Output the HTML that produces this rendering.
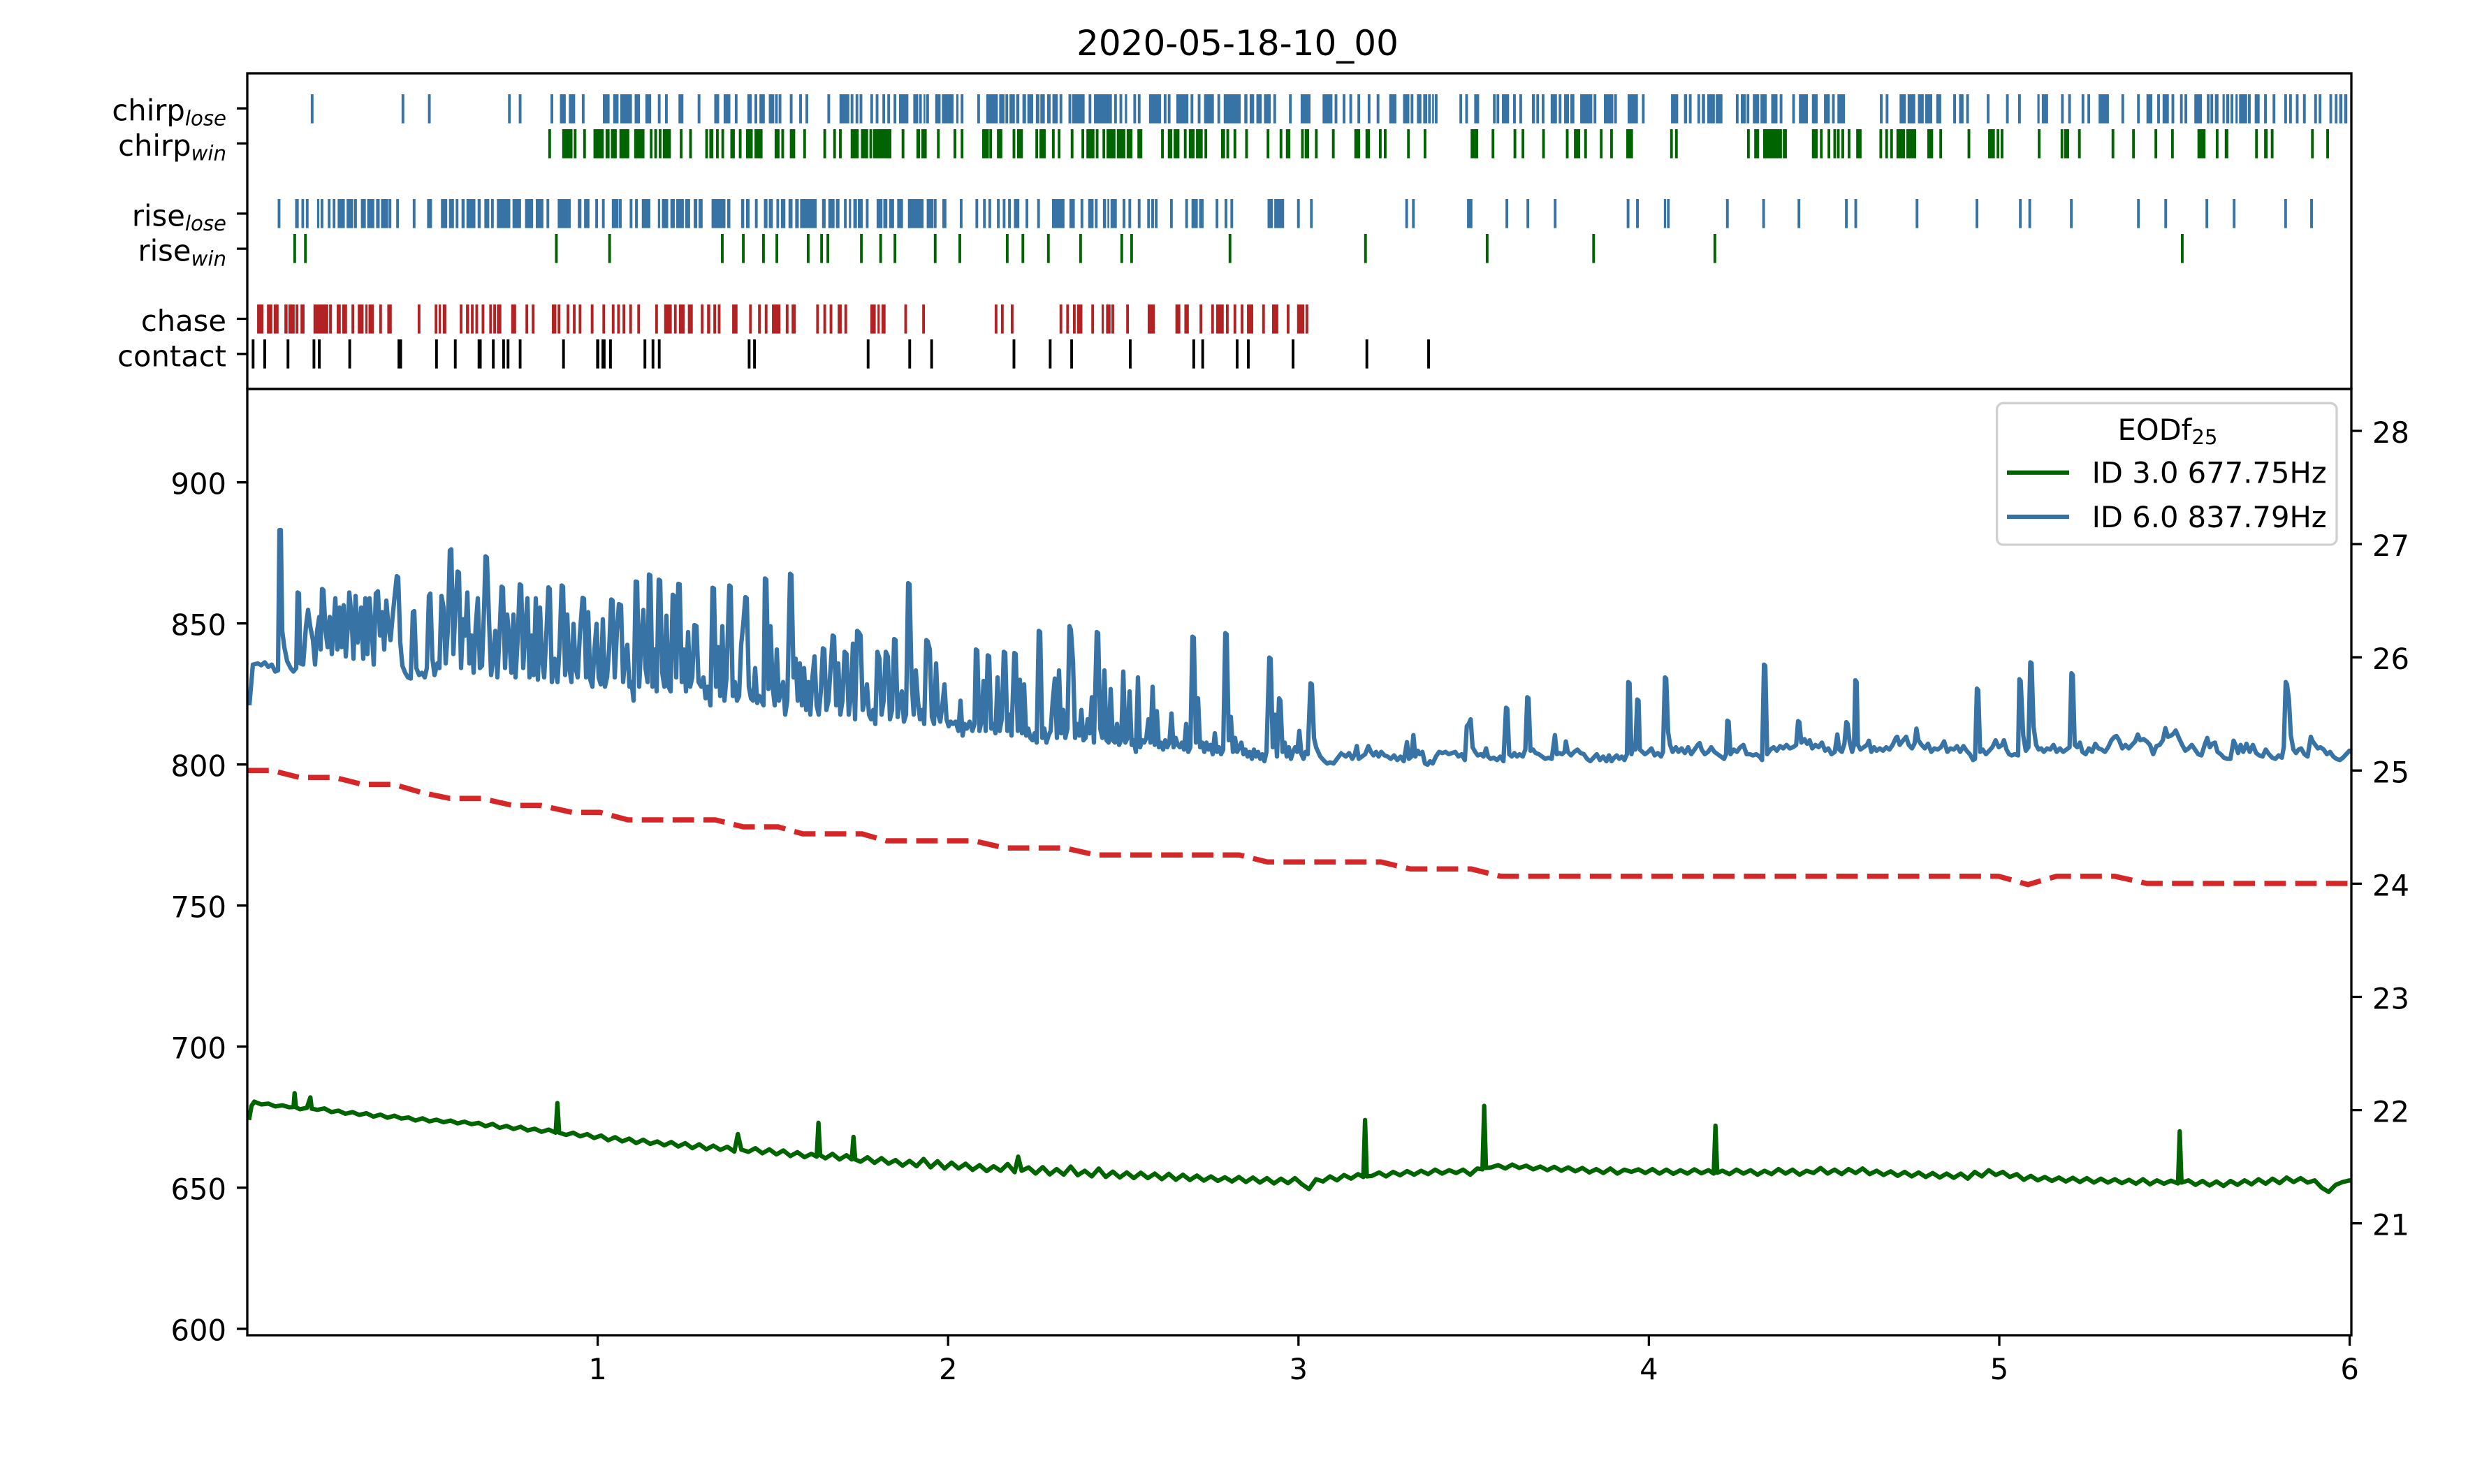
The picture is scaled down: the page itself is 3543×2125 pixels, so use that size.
<!DOCTYPE html>
<html><head><meta charset="utf-8"><style>html,body{margin:0;padding:0;background:#fff}svg{display:block}</style></head>
<body>
<svg xmlns="http://www.w3.org/2000/svg" width="3543" height="2125" viewBox="0 0 3543 2125" font-family="'DejaVu Sans','Liberation Sans',sans-serif">
<rect width="3543" height="2125" fill="#fff"/>
<defs><clipPath id="cb"><rect x="354" y="557" width="3012" height="1355"/></clipPath></defs>
<text x="1771.5" y="79" font-size="50" text-anchor="middle">2020-05-18-10_00</text>

<!-- ===== TOP EVENT PANEL ===== -->
<g fill-rule="nonzero">
<!-- segment 1 -->
<g transform="matrix(0.64029,0,0,0.33333,354,105)">
 <g transform="translate(0,90)" stroke="#3773a5" fill="#3773a5">
  <path vector-effect="non-scaling-stroke" stroke-width="3.9" fill="none" d="M145 0v125M348 0v125M407 0v125M586 0v125M610 0v125M681 0v125M751 0v125M921 0v125M937 0v125M1010 0v125M1093 0v125M1137 0v125M1183 0v125M1191 0v125M1216 0v125M1237 0v125M1251 0v125M1300 0v125M1352 0v125M1372 0v125M1396 0v125M1408 0v125M1423 0v125M1434 0v125M1448 0v125M1505 0v125M1521 0v125"/>
  <path stroke="none" d="M699 0h13v125h-13zM719 0h14v125h-14zM795 0h15v125h-15zM818 0h12v125h-12zM834 0h26v125h-26zM866 0h12v125h-12zM890 0h13v125h-13zM964 0h11v125h-11zM1044 0h11v125h-11zM1065 0h15v125h-15zM1118 0h10v125h-10zM1145 0h12v125h-12zM1166 0h12v125h-12zM1324 0h22v125h-22zM1360 0h6v125h-6zM1457 0h21v125h-21zM1489 0h11v125h-11zM1512 0h4v125h-4zM1538 0h12v125h-12zM1553 0h15v125h-15z"/>
 </g>
 <g transform="translate(0,240)" stroke="#006400" fill="#006400">
  <path vector-effect="non-scaling-stroke" stroke-width="3.9" fill="none" d="M676 0v125M733 0v125M754 0v125M903 0v125M913 0v125M970 0v125M991 0v125M1027 0v125M1051 0v125M1102 0v125M1197 0v125M1246 0v125M1291 0v125M1313 0v125M1326 0v125M1394 0v125M1466 0v125M1545 0v125"/>
  <path stroke="none" d="M704 0h23v125h-23zM774 0h23v125h-23zM801 0h9v125h-9zM813 0h13v125h-13zM832 0h22v125h-22zM865 0h23v125h-23zM920 0h6v125h-6zM929 0h18v125h-18zM1033 0h9v125h-9zM1060 0h6v125h-6zM1080 0h10v125h-10zM1115 0h15v125h-15zM1134 0h18v125h-18zM1179 0h11v125h-11zM1213 0h12v125h-12zM1349 0h18v125h-18zM1372 0h16v125h-16zM1399 0h41v125h-41zM1496 0h8v125h-8zM1507 0h12v125h-12z"/>
 </g>
 <g transform="translate(0,540)" stroke="#3773a5" fill="#3773a5">
  <path vector-effect="non-scaling-stroke" stroke-width="3.9" fill="none" d="M71 0v125M134 0v125M167 0v125M183 0v125M242 0v125M319 0v125M336 0v125M373 0v125M469 0v125M548 0v125M672 0v125M720 0v125M781 0v125M796 0v125M834 0v125M858 0v125M870 0v125M1138 0v125M1186 0v125M1386 0v125M1538 0v125"/>
  <path stroke="none" d="M107 0h8v125h-8zM121 0h6v125h-6zM156 0h5v125h-5zM191 0h6v125h-6zM202 0h16v125h-16zM222 0h15v125h-15zM254 0h11v125h-11zM268 0h16v125h-16zM288 0h8v125h-8zM299 0h16v125h-16zM402 0h11v125h-11zM433 0h14v125h-14zM451 0h11v125h-11zM479 0h7v125h-7zM490 0h20v125h-20zM515 0h7v125h-7zM530 0h11v125h-11zM558 0h30v125h-30zM593 0h19v125h-19zM621 0h18v125h-18zM645 0h17v125h-17zM694 0h23v125h-23zM739 0h8v125h-8zM753 0h12v125h-12zM815 0h15v125h-15zM882 0h19v125h-19zM918 0h5v125h-5zM927 0h14v125h-14zM946 0h10v125h-10zM959 0h17v125h-17zM979 0h11v125h-11zM998 0h8v125h-8zM1009 0h9v125h-9zM1038 0h31v125h-31zM1073 0h7v125h-7zM1104 0h7v125h-7zM1115 0h8v125h-8zM1155 0h8v125h-8zM1166 0h9v125h-9zM1193 0h10v125h-10zM1210 0h9v125h-9zM1225 0h8v125h-8zM1236 0h37v125h-37zM1285 0h8v125h-8zM1299 0h14v125h-14zM1316 0h8v125h-8zM1334 0h6v125h-6zM1345 0h5v125h-5zM1355 0h8v125h-8zM1365 0h11v125h-11zM1407 0h13v125h-13zM1422 0h9v125h-9zM1435 0h11v125h-11zM1453 0h13v125h-13zM1477 0h35v125h-35zM1519 0h15v125h-15zM1554 0h9v125h-9z"/>
 </g>
 <g transform="translate(0,690)">
  <path vector-effect="non-scaling-stroke" stroke="#006400" stroke-width="3.9" fill="none" d="M106 0v125M130 0v125M691 0v125M810 0v125M1062 0v125M1109 0v125M1154 0v125M1184 0v125M1254 0v125M1284 0v125M1298 0v125M1373 0v125M1416 0v125M1448 0v125M1538 0v125"/>
 </g>
 <g transform="translate(0,993)" stroke="#b22222" fill="#b22222">
  <path vector-effect="non-scaling-stroke" stroke-width="3.9" fill="none" d="M111 0v125M186 0v125M236 0v125M298 0v125M384 0v125M422 0v125M478 0v125M513 0v125M527 0v125M544 0v125M625 0v125M639 0v125M697 0v125M717 0v125M731 0v125M744 0v125M771 0v125M797 0v125M818 0v125M830 0v125M842 0v125M857 0v125M875 0v125M915 0v125M1017 0v125M1045 0v125M1055 0v125M1125 0v125M1145 0v125M1160 0v125M1207 0v125M1275 0v125M1291 0v125M1305 0v125M1338 0v125M1472 0v125M1512 0v125"/>
  <path stroke="none" d="M22 0h14v125h-14zM44 0h12v125h-12zM59 0h11v125h-11zM83 0h7v125h-7zM92 0h14v125h-14zM119 0h9v125h-9zM148 0h33v125h-33zM200 0h9v125h-9zM212 0h11v125h-11zM247 0h13v125h-13zM264 0h5v125h-5zM271 0h12v125h-12zM313 0h10v125h-10zM428 0h5v125h-5zM437 0h8v125h-8zM489 0h7v125h-7zM500 0h6v125h-6zM550 0h6v125h-6zM558 0h10v125h-10zM590 0h11v125h-11zM681 0h10v125h-10zM932 0h17v125h-17zM954 0h6v125h-6zM965 0h13v125h-13zM985 0h11v125h-11zM1028 0h7v125h-7zM1084 0h12v125h-12zM1173 0h19v125h-19zM1217 0h9v125h-9zM1320 0h9v125h-9zM1393 0h12v125h-12zM1409 0h5v125h-5zM1418 0h9v125h-9z"/>
 </g>
 <g transform="translate(0,1143)" stroke="#000" fill="#000">
  <path vector-effect="non-scaling-stroke" stroke-width="3.9" fill="none" d="M13 0v125M39 0v125M91 0v125M149 0v125M161 0v125M229 0v125M423 0v125M465 0v125M550 0v125M573 0v125M583 0v125M610 0v125M707 0v125M812 0v125M889 0v125M907 0v125M921 0v125M1122 0v125M1134 0v125M1388 0v125M1481 0v125M1530 0v125"/>
  <path stroke="none" d="M336 0h10v125h-10zM515 0h9v125h-9zM780 0h7v125h-7zM792 0h9v125h-9z"/>
 </g>
</g>
<!-- segment 2 -->
<g transform="matrix(0.64029,0,0,0.33333,1358,105)">
 <g transform="translate(0,90)" stroke="#3773a5" fill="#3773a5">
  <path vector-effect="non-scaling-stroke" stroke-width="3.9" fill="none" d="M30 0v125M67 0v125M130 0v125M251 0v125M271 0v125M316 0v125M373 0v125M385 0v125M416 0v125M426 0v125M484 0v125M493 0v125M544 0v125M560 0v125M604 0v125M729 0v125M764 0v125M866 0v125M884 0v125M899 0v125M917 0v125M940 0v125M960 0v125M1036 0v125M1075 0v125M1090 0v125M1145 0v125M1158 0v125M1220 0v125M1228 0v125M1265 0v125M1279 0v125M1317 0v125M1329 0v125M1367 0v125M1445 0v125M1491 0v125M1553 0v125"/>
  <path stroke="none" d="M0 0h11v125h-11zM17 0h5v125h-5zM84 0h26v125h-26zM113 0h12v125h-12zM136 0h12v125h-12zM151 0h7v125h-7zM165 0h8v125h-8zM176 0h13v125h-13zM195 0h8v125h-8zM205 0h10v125h-10zM220 0h8v125h-8zM232 0h12v125h-12zM276 0h28v125h-28zM325 0h40v125h-40zM394 0h5v125h-5zM448 0h27v125h-27zM509 0h27v125h-27zM571 0h22v125h-22zM615 0h38v125h-38zM661 0h7v125h-7zM673 0h10v125h-10zM688 0h12v125h-12zM705 0h15v125h-15zM787 0h22v125h-22zM836 0h22v125h-22zM985 0h16v125h-16zM1016 0h14v125h-14zM1047 0h10v125h-10zM1061 0h9v125h-9zM1081 0h4v125h-4zM1175 0h11v125h-11zM1237 0h16v125h-16zM1304 0h7v125h-7zM1346 0h14v125h-14zM1376 0h11v125h-11zM1390 0h9v125h-9zM1412 0h27v125h-27zM1465 0h21v125h-21zM1518 0h23v125h-23z"/>
 </g>
 <g transform="translate(0,240)" stroke="#006400" fill="#006400">
  <path vector-effect="non-scaling-stroke" stroke-width="3.9" fill="none" d="M14 0v125M30 0v125M94 0v125M146 0v125M197 0v125M234 0v125M247 0v125M276 0v125M300 0v125M332 0v125M478 0v125M529 0v125M575 0v125M624 0v125M640 0v125M666 0v125M714 0v125M743 0v125M791 0v125M822 0v125M860 0v125M965 0v125M976 0v125M1028 0v125M1065 0v125M1217 0v125M1266 0v125M1284 0v125M1330 0v125M1383 0v125M1424 0v125M1459 0v125M1482 0v125"/>
  <path stroke="none" d="M75 0h15v125h-15zM108 0h12v125h-12zM153 0h13v125h-13zM203 0h14v125h-14zM308 0h18v125h-18zM344 0h6v125h-6zM353 0h20v125h-20zM376 0h19v125h-19zM398 0h13v125h-13zM422 0h11v125h-11zM490 0h10v125h-10zM503 0h13v125h-13zM537 0h13v125h-13zM553 0h15v125h-15zM609 0h9v125h-9zM754 0h10v125h-10zM796 0h10v125h-10zM907 0h13v125h-13zM932 0h10v125h-10zM1167 0h17v125h-17zM1398 0h14v125h-14zM1515 0h15v125h-15z"/>
 </g>
 <g transform="translate(0,540)" stroke="#3773a5" fill="#3773a5">
  <path vector-effect="non-scaling-stroke" stroke-width="3.9" fill="none" d="M28 0v125M63 0v125M80 0v125M92 0v125M111 0v125M124 0v125M136 0v125M175 0v125M201 0v125M298 0v125M330 0v125M392 0v125M405 0v125M426 0v125M456 0v125M464 0v125M498 0v125M532 0v125M600 0v125M620 0v125M633 0v125M782 0v125M811 0v125M1024 0v125M1039 0v125M1248 0v125M1295 0v125M1356 0v125M1519 0v125M1540 0v125"/>
  <path stroke="none" d="M146 0h12v125h-12zM231 0h28v125h-28zM270 0h12v125h-12zM312 0h12v125h-12zM345 0h7v125h-7zM355 0h4v125h-4zM362 0h14v125h-14zM444 0h6v125h-6zM543 0h14v125h-14zM560 0h10v125h-10zM713 0h12v125h-12zM728 0h22v125h-22zM1159 0h12v125h-12z"/>
 </g>
 <g transform="translate(0,690)">
  <path vector-effect="non-scaling-stroke" stroke="#006400" stroke-width="3.9" fill="none" d="M25 0v125M131 0v125M166 0v125M223 0v125M295 0v125M387 0v125M409 0v125M629 0v125M932 0v125M1204 0v125M1442 0v125"/>
 </g>
 <g transform="translate(0,993)" stroke="#b22222" fill="#b22222">
  <path vector-effect="non-scaling-stroke" stroke-width="3.9" fill="none" d="M106 0v125M120 0v125M142 0v125M251 0v125M266 0v125M281 0v125M290 0v125M296 0v125M322 0v125M367 0v125M400 0v125M564 0v125M590 0v125M623 0v125M640 0v125M656 0v125M704 0v125M759 0v125M801 0v125"/>
  <path stroke="none" d="M342 0h5v125h-5zM352 0h10v125h-10zM445 0h16v125h-16zM507 0h11v125h-11zM527 0h10v125h-10zM598 0h17v125h-17zM667 0h14v125h-14zM723 0h14v125h-14zM779 0h16v125h-16z"/>
 </g>
 <g transform="translate(0,1143)">
  <path vector-effect="non-scaling-stroke" stroke="#000" stroke-width="3.9" fill="none" d="M146 0v125M227 0v125M275 0v125M406 0v125M548 0v125M568 0v125M645 0v125M670 0v125M770 0v125M935 0v125M1073 0v125"/>
 </g>
</g>
<!-- segment 3 -->
<g transform="matrix(0.64029,0,0,0.33333,2362,105)">
 <g transform="translate(0,90)" stroke="#3773a5" fill="#3773a5">
  <path vector-effect="non-scaling-stroke" stroke-width="3.9" fill="none" d="M90 0v125M195 0v125M219 0v125M293 0v125M321 0v125M410 0v125M517 0v125M530 0v125M681 0v125M710 0v125M756 0v125M799 0v125M826 0v125M938 0v125M968 0v125M981 0v125M1057 0v125M1092 0v125M1137 0v125M1169 0v125M1198 0v125M1248 0v125M1256 0v125M1301 0v125M1340 0v125M1376 0v125M1395 0v125M1421 0v125M1432 0v125M1447 0v125M1463 0v125M1488 0v125M1498 0v125"/>
  <path stroke="none" d="M47 0h16v125h-16zM76 0h7v125h-7zM106 0h6v125h-6zM116 0h7v125h-7zM128 0h17v125h-17zM147 0h15v125h-15zM203 0h11v125h-11zM230 0h14v125h-14zM247 0h14v125h-14zM271 0h14v125h-14zM333 0h20v125h-20zM362 0h13v125h-13zM389 0h13v125h-13zM419 0h17v125h-17zM558 0h14v125h-14zM576 0h17v125h-17zM599 0h13v125h-13zM615 0h16v125h-16zM640 0h11v125h-11zM691 0h10v125h-10zM866 0h5v125h-5zM876 0h14v125h-14zM919 0h6v125h-6zM1003 0h23v125h-23zM1110 0h13v125h-13zM1146 0h14v125h-14zM1185 0h6v125h-6zM1217 0h17v125h-17zM1263 0h8v125h-8zM1280 0h5v125h-5zM1288 0h7v125h-7zM1309 0h5v125h-5zM1317 0h18v125h-18zM1352 0h11v125h-11zM1519 0h6v125h-6zM1531 0h6v125h-6zM1541 0h7v125h-7zM1552 0h7v125h-7z"/>
 </g>
 <g transform="translate(0,240)" stroke="#006400" fill="#006400">
  <path vector-effect="non-scaling-stroke" stroke-width="3.9" fill="none" d="M59 0v125M220 0v125M383 0v125M400 0v125M421 0v125M431 0v125M445 0v125M516 0v125M529 0v125M540 0v125M650 0v125M713 0v125M778 0v125M787 0v125M870 0v125M960 0v125M1035 0v125M1081 0v125M1131 0v125M1168 0v125M1268 0v125M1356 0v125M1391 0v125M1481 0v125M1515 0v125"/>
  <path stroke="none" d="M45 0h6v125h-6zM233 0h11v125h-11zM253 0h42v125h-42zM297 0h9v125h-9zM362 0h13v125h-13zM410 0h6v125h-6zM461 0h12v125h-12zM551 0h19v125h-19zM573 0h22v125h-22zM620 0h13v125h-13zM756 0h15v125h-15zM918 0h6v125h-6zM926 0h11v125h-11zM1224 0h18v125h-18zM1285 0h8v125h-8zM1373 0h8v125h-8z"/>
 </g>
 <g transform="translate(0,540)" stroke="#3773a5" fill="#3773a5">
  <path vector-effect="non-scaling-stroke" stroke-width="3.9" fill="none" d="M173 0v125M254 0v125M333 0v125M439 0v125M460 0v125M597 0v125M731 0v125M828 0v125M849 0v125M942 0v125M1092 0v125M1153 0v125M1245 0v125M1306 0v125M1421 0v125M1479 0v125"/>
  <path stroke="none" d="M31 0h5v125h-5zM38 0h6v125h-6z"/>
 </g>
 <g transform="translate(0,690)">
  <path vector-effect="non-scaling-stroke" stroke="#006400" stroke-width="3.9" fill="none" d="M145 0v125M1190 0v125"/>
 </g>
</g>
</g>

<!-- top panel ticks & labels -->
<path d="M339 155.2H354M339 205.4H354M339 305.9H354M339 356.1H354M339 456.5H354M339 506.8H354" stroke="#000" stroke-width="3.3"/>
<g font-size="41.67" text-anchor="end">
<text x="324" y="172.7">chirp<tspan font-style="italic" font-size="29.2" dy="6.7">lose</tspan></text>
<text x="324" y="222.9">chirp<tspan font-style="italic" font-size="29.2" dy="6.7">win</tspan></text>
<text x="324" y="323.4">rise<tspan font-style="italic" font-size="29.2" dy="6.7">lose</tspan></text>
<text x="324" y="373.6">rise<tspan font-style="italic" font-size="29.2" dy="6.7">win</tspan></text>
<text x="324" y="474">chase</text>
<text x="324" y="524.3">contact</text>
</g>

<!-- ===== BOTTOM PANEL ===== -->
<g clip-path="url(#cb)">
<path d="M354 1103.3L389 1103.3L429 1113.3L479 1113.3L519 1123.3L564 1123.3L604 1135L644 1143.3L689 1143.3L734 1153.3L774 1153.3L819 1163.3L859 1163.3L899 1174L1024 1174L1064 1184L1114 1184L1149 1194L1234 1194L1269 1204L1394 1204L1439 1214.3L1524 1214.3L1569 1224.3L1774 1224.3L1814 1234.3L1977 1234.3L2019 1244.3L2106 1244.3L2148 1254.7L2861 1254.7L2903 1266.7L2944 1254.7L3027 1254.7L3073 1265L3366 1265" fill="none" stroke="#d62728" stroke-width="7.5" stroke-dasharray="30.8 13.3"/>

<path transform="matrix(1,0,0,0.33333,354,770)" vector-effect="non-scaling-stroke" fill="none" stroke="#3773a5" stroke-width="6.25" stroke-linejoin="round" d="M3,720 L8,545 L15,540 L20,548 L25,535 L30,555 L35,545 L40,575 L44,570 L46,-33 L48,-33 L50,400 L53,470 L57,530 L62,560 L66,575 L70,560 L72,235 L74,240 L76,540 L80,545 L84,380 L87,310 L90,380 L94,440 L97,545 L100,400 L103,340 L105,480 L107,220 L109,225 L112,400 L115,470 L118,340 L121,500 L124,360 L126,260 L129,480 L132,300 L135,470 L138,290 L141,510 L144,380 L146,235 L149,330 L152,520 L155,250 L158,450 L161,380 L163,300 L166,520 L169,260 L172,500 L175,260 L178,390 L181,545 L184,240 L187,230 L190,420 L193,320 L196,480 L199,270 L202,380 L205,440 L208,340 L211,250 L214,165 L216,170 L219,450 L222,550 L226,580 L230,600 L234,605 L237,320 L239,315 L242,560 L246,590 L250,580 L254,600 L257,560 L260,250 L262,240 L265,520 L268,590 L272,540 L275,560 L278,250 L281,300 L284,540 L287,400 L290,55 L292,50 L295,500 L298,300 L301,145 L303,150 L306,560 L309,350 L312,420 L315,235 L318,540 L321,420 L324,580 L327,380 L330,260 L333,560 L336,550 L339,300 L341,80 L343,85 L346,350 L349,590 L352,520 L355,400 L358,600 L361,420 L364,210 L366,215 L369,560 L372,330 L375,430 L378,580 L381,330 L384,600 L387,440 L390,200 L392,205 L395,560 L398,390 L401,260 L404,600 L407,420 L410,590 L413,260 L416,610 L419,300 L422,520 L425,600 L428,420 L431,213 L433,220 L436,620 L440,520 L444,620 L447,470 L450,205 L452,210 L455,590 L458,330 L461,560 L464,620 L467,370 L470,560 L473,600 L476,420 L480,258 L482,262 L485,600 L488,320 L491,610 L494,640 L497,480 L500,370 L503,600 L506,630 L509,350 L512,640 L515,600 L518,480 L521,265 L523,270 L526,600 L529,410 L532,285 L535,290 L538,620 L541,510 L544,460 L547,640 L550,620 L553,700 L556,188 L558,190 L561,640 L564,440 L567,310 L570,560 L573,620 L575,158 L577,162 L580,640 L583,480 L586,660 L589,180 L591,184 L594,580 L597,640 L600,335 L603,640 L606,660 L609,245 L611,250 L614,600 L617,198 L619,200 L622,620 L625,480 L628,660 L631,405 L634,640 L637,600 L640,375 L643,380 L646,620 L650,640 L653,600 L656,690 L659,640 L663,720 L666,215 L668,218 L671,640 L674,470 L677,680 L680,380 L683,700 L686,600 L690,205 L692,210 L695,680 L698,620 L701,700 L704,680 L707,460 L710,370 L713,255 L715,260 L718,640 L721,690 L724,700 L727,560 L730,710 L733,680 L736,700 L739,720 L741,175 L743,180 L746,650 L749,380 L752,640 L755,720 L758,480 L761,700 L764,660 L767,620 L770,760 L773,700 L777,155 L779,160 L782,600 L785,520 L788,700 L791,540 L794,720 L797,560 L800,740 L803,620 L806,760 L809,600 L812,510 L815,720 L818,760 L821,660 L824,475 L826,480 L829,740 L832,700 L835,560 L838,420 L840,425 L843,720 L846,540 L849,760 L852,700 L855,490 L858,500 L861,760 L864,680 L867,455 L870,780 L873,400 L875,405 L878,420 L881,740 L884,700 L887,630 L890,760 L893,780 L896,740 L899,800 L902,490 L905,520 L908,760 L911,700 L914,490 L917,510 L920,780 L923,740 L926,435 L928,440 L931,770 L934,700 L937,660 L940,790 L943,760 L946,195 L948,200 L951,620 L954,760 L957,570 L960,700 L963,780 L966,740 L969,800 L972,440 L974,445 L977,480 L980,770 L983,800 L986,540 L989,760 L992,790 L995,720 L998,630 L1001,780 L1004,810 L1007,790 L1010,800 L1014,790 L1018,830 L1021,700 L1024,850 L1027,800 L1030,820 L1034,790 L1038,830 L1041,800 L1043,480 L1045,485 L1048,830 L1051,790 L1054,615 L1057,830 L1060,505 L1062,510 L1065,820 L1068,800 L1071,840 L1074,600 L1077,830 L1080,780 L1083,490 L1085,495 L1088,830 L1091,760 L1094,850 L1098,495 L1100,500 L1103,830 L1106,610 L1109,840 L1112,630 L1115,850 L1118,820 L1121,860 L1124,870 L1127,840 L1130,880 L1133,400 L1135,405 L1138,860 L1141,820 L1144,880 L1147,850 L1150,830 L1153,700 L1156,605 L1159,860 L1162,570 L1165,840 L1168,740 L1171,860 L1174,820 L1177,380 L1179,395 L1182,530 L1185,860 L1188,800 L1191,850 L1194,740 L1197,870 L1200,860 L1203,780 L1206,840 L1209,685 L1212,880 L1216,405 L1218,410 L1221,820 L1224,860 L1227,570 L1230,870 L1233,880 L1236,650 L1239,870 L1242,880 L1245,800 L1248,890 L1251,870 L1254,575 L1257,880 L1260,860 L1263,660 L1266,890 L1269,870 L1272,920 L1275,600 L1278,900 L1281,870 L1284,880 L1287,860 L1290,780 L1293,880 L1296,640 L1299,890 L1302,745 L1305,900 L1308,880 L1311,910 L1314,870 L1317,900 L1320,880 L1323,755 L1326,900 L1329,860 L1332,890 L1335,900 L1338,880 L1341,910 L1344,800 L1347,920 L1350,900 L1353,425 L1355,430 L1358,880 L1361,690 L1364,900 L1367,880 L1370,920 L1373,880 L1376,910 L1379,890 L1382,930 L1385,840 L1388,920 L1391,900 L1394,930 L1397,910 L1400,410 L1402,415 L1405,870 L1408,770 L1411,920 L1414,860 L1417,920 L1420,900 L1423,880 L1426,930 L1429,910 L1432,940 L1435,920 L1438,950 L1441,910 L1444,940 L1447,920 L1450,950 L1453,930 L1456,960 L1459,920 L1463,515 L1465,520 L1468,900 L1471,760 L1474,940 L1477,690 L1479,700 L1482,920 L1485,880 L1488,940 L1491,900 L1494,950 L1497,920 L1500,900 L1503,920 L1506,830 L1509,930 L1512,950 L1515,920 L1518,930 L1522,625 L1524,630 L1527,860 L1530,900 L1533,920 L1536,940 L1539,950 L1542,960 L1546,970 L1550,965 L1555,970 L1560,950 L1565,930 L1568,920"/>

<path transform="matrix(0.92089,0,0,0.33333,1922,880)" vector-effect="non-scaling-stroke" fill="none" stroke="#3773a5" stroke-width="6.25" stroke-linejoin="round" d="M0,600 L5,610 L10,595 L15,620 L19,600 L22,565 L25,620 L30,610 L35,600 L40,565 L44,590 L48,605 L52,590 L56,610 L60,590 L65,605 L70,610 L75,620 L80,605 L85,625 L90,610 L95,630 L100,548 L103,620 L107,610 L110,518 L113,610 L117,585 L120,600 L124,590 L128,640 L132,645 L136,630 L140,640 L145,610 L150,590 L155,595 L160,590 L165,600 L170,595 L175,590 L180,610 L185,600 L190,625 L193,480 L196,470 L199,450 L202,570 L206,590 L210,605 L215,600 L219,610 L223,575 L226,610 L230,620 L235,615 L240,625 L245,610 L250,630 L254,400 L256,405 L259,600 L263,610 L267,595 L271,610 L275,600 L280,610 L284,580 L287,355 L289,360 L292,585 L296,580 L300,595 L305,600 L310,610 L315,620 L320,615 L325,620 L330,518 L333,600 L337,595 L341,600 L345,590 L347,545 L350,590 L355,605 L360,590 L365,580 L370,595 L375,600 L380,620 L385,630 L390,615 L395,600 L400,625 L405,610 L410,630 L414,605 L418,630 L422,615 L426,605 L430,620 L434,610 L438,625 L442,600 L444,290 L446,295 L449,600 L452,560 L455,580 L458,365 L460,370 L462,580 L466,590 L470,600 L475,590 L480,575 L485,605 L490,595 L495,610 L498,590 L501,270 L503,275 L506,505 L509,560 L513,590 L518,570 L522,590 L527,575 L532,595 L537,570 L542,600 L547,580 L552,560 L555,552 L558,580 L563,600 L568,590 L573,570 L578,590 L583,600 L588,610 L593,620 L596,600 L598,456 L600,460 L603,600 L608,580 L613,590 L618,570 L623,560 L628,600 L633,600 L638,605 L643,600 L648,610 L652,625 L655,215 L657,220 L660,600 L665,580 L670,570 L675,585 L680,565 L685,575 L690,560 L695,575 L700,570 L705,560 L708,458 L710,462 L713,550 L718,535 L722,555 L726,540 L730,575 L735,560 L740,570 L745,550 L750,585 L755,575 L760,600 L765,590 L769,515 L772,580 L776,590 L780,555 L783,462 L785,470 L788,545 L792,590 L795,560 L797,282 L799,290 L801,560 L805,580 L810,570 L815,560 L818,542 L822,590 L826,570 L830,585 L835,575 L840,585 L845,570 L850,580 L855,560 L860,530 L862,525 L866,560 L870,545 L876,525 L880,560 L885,575 L889,555 L892,490 L895,540 L900,560 L905,575 L910,555 L915,590 L920,575 L925,580 L930,570 L935,545 L940,590 L945,575 L950,580 L955,565 L960,590 L965,565 L970,585 L975,600 L980,625 L983,620 L986,318 L988,325 L991,590 L995,580 L1000,600 L1005,585 L1010,570 L1015,540 L1020,570 L1025,560 L1028,540 L1032,580 L1036,600 L1040,605 L1045,600 L1050,605 L1052,278 L1054,285 L1058,520 L1062,585 L1066,570 L1069,205 L1071,210 L1074,480 L1078,560 L1082,580 L1086,575 L1090,590 L1095,575 L1100,580 L1105,560 L1110,590 L1115,575 L1120,590 L1125,580 L1130,570 L1133,252 L1135,260 L1138,560 L1142,570 L1146,550 L1150,590 L1155,600 L1160,575 L1165,590 L1170,555 L1175,575 L1180,580 L1185,590 L1190,570 L1195,540 L1200,525 L1203,522 L1207,540 L1212,575 L1217,560 L1222,575 L1227,560 L1232,545 L1236,515 L1240,540 L1245,535 L1250,545 L1255,560 L1260,600 L1265,565 L1270,560 L1275,540 L1279,488 L1283,525 L1288,520 L1292,510 L1295,498 L1300,530 L1305,560 L1310,585 L1315,575 L1320,560 L1325,580 L1330,600 L1335,605 L1340,560 L1344,530 L1348,570 L1352,555 L1356,550 L1360,590 L1365,600 L1370,615 L1375,620 L1380,620 L1385,542 L1388,560 L1392,595 L1396,560 L1400,590 L1405,555 L1410,590 L1415,560 L1420,595 L1425,605 L1430,610 L1435,580 L1440,600 L1445,615 L1450,620 L1455,605 L1460,615 L1463,570 L1466,290 L1468,300 L1471,365 L1474,520 L1478,580 L1482,595 L1486,580 L1490,575 L1495,600 L1500,610 L1505,525 L1508,545 L1512,560 L1516,575 L1520,570 L1525,580 L1530,600 L1535,590 L1540,610 L1545,620 L1550,625 L1555,615 L1560,600 L1565,585 L1568,590"/>

<path transform="matrix(501.6,0,0,-4.04,354,4326.7)" vector-effect="non-scaling-stroke" fill="none" stroke="#006400" stroke-width="6.25" stroke-linejoin="round" d="M0.005,674 L0.012,679 L0.02,680.5 L0.04,679.5 L0.06,679.8 L0.08,678.8 L0.10,679.2 L0.12,678.5 L0.132,678.6 L0.135,683.5 L0.139,678.5 L0.15,677.8 L0.17,678.3 L0.18,682 L0.184,678 L0.20,677.6 L0.22,678.1 L0.24,676.8 L0.26,677.3 L0.28,676.2 L0.30,676.8 L0.32,675.8 L0.34,676.4 L0.36,675.2 L0.38,675.9 L0.40,674.8 L0.42,675.5 L0.44,674.5 L0.46,674.9 L0.48,673.8 L0.50,674.6 L0.52,673.5 L0.54,674.1 L0.56,673.2 L0.58,673.8 L0.60,672.8 L0.62,673.4 L0.64,672.5 L0.66,673 L0.68,671.8 L0.70,672.6 L0.72,671.2 L0.74,671.9 L0.76,670.8 L0.78,671.6 L0.80,670.3 L0.82,670.9 L0.84,669.8 L0.86,670.6 L0.88,669.5 L0.885,680 L0.89,669.5 L0.91,668.7 L0.93,669.5 L0.95,668.2 L0.97,669 L0.99,667.6 L1.01,668.5 L1.03,666.8 L1.05,667.9 L1.07,666.4 L1.09,667.4 L1.11,665.8 L1.13,667 L1.15,665.5 L1.17,666.4 L1.19,665 L1.21,666.2 L1.23,664.6 L1.25,665.8 L1.27,664 L1.29,665.4 L1.31,663.6 L1.33,664.9 L1.35,663.4 L1.37,664.5 L1.39,662.8 L1.40,669 L1.41,663.5 L1.43,662.7 L1.45,664 L1.47,662.2 L1.49,663.6 L1.51,661.8 L1.53,663.2 L1.55,661.2 L1.57,662.6 L1.59,660.8 L1.61,662 L1.625,661 L1.63,673 L1.635,661.5 L1.65,660.4 L1.67,662 L1.69,660 L1.71,661.5 L1.725,660 L1.73,668 L1.735,660 L1.75,659.2 L1.77,660.8 L1.79,658.8 L1.81,660.5 L1.83,658.5 L1.85,659.8 L1.87,657.8 L1.89,659.5 L1.91,657.6 L1.93,660.2 L1.95,657.2 L1.97,659.4 L1.99,656.8 L2.01,658.9 L2.03,656.8 L2.05,658.5 L2.07,656.3 L2.09,658 L2.11,655.9 L2.13,657.6 L2.15,656 L2.17,658.4 L2.19,655.5 L2.20,661 L2.21,656 L2.23,657.2 L2.25,655 L2.27,657.3 L2.29,654.7 L2.31,656.6 L2.33,654.6 L2.35,657.5 L2.37,654.4 L2.39,656 L2.41,654 L2.43,656.8 L2.45,653.8 L2.47,655.7 L2.49,653.6 L2.51,655.4 L2.53,653.4 L2.55,655.3 L2.57,653.4 L2.59,655 L2.61,653 L2.63,654.9 L2.65,652.8 L2.67,654.6 L2.69,652.7 L2.71,654.3 L2.73,652.5 L2.75,654 L2.77,652.4 L2.79,653.7 L2.81,652.2 L2.83,653.8 L2.85,652 L2.87,653.6 L2.89,651.8 L2.91,653.4 L2.93,651.5 L2.95,653.2 L2.97,651.6 L2.99,653.4 L3.01,651.2 L3.03,649.5 L3.05,653 L3.07,652.2 L3.09,654 L3.11,652.6 L3.13,654.5 L3.15,653.2 L3.17,654.8 L3.185,653.8 L3.19,674 L3.195,654 L3.21,654.2 L3.23,655.4 L3.25,654 L3.27,655.6 L3.29,654.4 L3.31,655.9 L3.33,654.6 L3.35,656 L3.37,654.8 L3.39,656.4 L3.41,655 L3.43,656.2 L3.45,655.2 L3.47,656.4 L3.49,654.6 L3.51,656.8 L3.525,656.5 L3.53,679 L3.535,657 L3.55,657.2 L3.57,658 L3.59,656.8 L3.61,658.2 L3.63,657 L3.65,657.8 L3.67,656.5 L3.69,657.5 L3.71,656.2 L3.73,657.4 L3.75,656 L3.77,657.2 L3.79,655.8 L3.81,657 L3.83,655.4 L3.85,656.6 L3.87,655.2 L3.89,656.8 L3.91,655 L3.93,656.4 L3.95,655.6 L3.97,656.5 L3.99,655.2 L4.01,656.6 L4.03,655 L4.05,656.4 L4.07,654.9 L4.09,656.2 L4.11,655 L4.13,656.5 L4.15,655.1 L4.17,656.2 L4.185,655 L4.19,672 L4.195,655.3 L4.21,656 L4.23,654.8 L4.25,656.4 L4.27,655 L4.29,656.2 L4.31,654.6 L4.33,656 L4.35,654.8 L4.37,656.6 L4.39,655 L4.41,656.4 L4.43,654.6 L4.45,656 L4.47,655.2 L4.49,657 L4.51,655 L4.53,656.4 L4.55,654.8 L4.57,656.6 L4.59,655.2 L4.61,656.8 L4.63,654.8 L4.65,656 L4.67,654.5 L4.69,655.8 L4.71,654.2 L4.73,655.6 L4.75,654 L4.77,655.4 L4.79,653.8 L4.81,655.2 L4.83,653.6 L4.85,655 L4.87,653.5 L4.89,655 L4.91,653.2 L4.93,655.6 L4.95,654 L4.97,656.2 L4.99,654.5 L5.01,655.6 L5.03,653.8 L5.05,654.8 L5.07,652.8 L5.09,654.2 L5.11,652.6 L5.13,653.8 L5.15,652.4 L5.17,653.6 L5.19,652.2 L5.21,653.5 L5.23,652 L5.25,653.4 L5.27,651.8 L5.29,653.2 L5.31,651.8 L5.33,653 L5.35,651.6 L5.37,652.8 L5.39,651.4 L5.41,653 L5.43,651.2 L5.45,652.6 L5.47,651.4 L5.49,652.5 L5.51,651.5 L5.515,670 L5.52,651.8 L5.54,652.6 L5.56,651 L5.58,652.4 L5.60,650.8 L5.62,652.2 L5.64,650.6 L5.66,652.4 L5.68,651 L5.70,652.6 L5.72,651.2 L5.74,653 L5.76,651.4 L5.78,653.2 L5.80,651.6 L5.82,653.6 L5.84,652 L5.86,653.4 L5.88,651.8 L5.90,652.6 L5.92,650 L5.94,648.5 L5.96,651 L5.98,652 L6.0,652.6 L6.005,652.4"/>
</g>

<!-- spines -->
<rect x="354" y="105" width="3012" height="452" fill="none" stroke="#000" stroke-width="3.3"/>
<rect x="354" y="557" width="3012" height="1355" fill="none" stroke="#000" stroke-width="3.3"/>

<!-- left y ticks -->
<path d="M339 690.7H354M339 892.7H354M339 1094.7H354M339 1296.7H354M339 1498.7H354M339 1700.7H354M339 1902.7H354" stroke="#000" stroke-width="3.3"/>
<g font-size="41.67" text-anchor="end">
<text x="324" y="707.3">900</text>
<text x="324" y="909.3">850</text>
<text x="324" y="1111.3">800</text>
<text x="324" y="1313.3">750</text>
<text x="324" y="1515.3">700</text>
<text x="324" y="1717.3">650</text>
<text x="324" y="1919.3">600</text>
</g>

<!-- right y ticks -->
<path d="M3366 617H3381M3366 779.1H3381M3366 941.2H3381M3366 1103.3H3381M3366 1265.4H3381M3366 1427.5H3381M3366 1589.6H3381M3366 1751.7H3381" stroke="#000" stroke-width="3.3"/>
<g font-size="41.67" text-anchor="start">
<text x="3396" y="634">28</text>
<text x="3396" y="796.1">27</text>
<text x="3396" y="958.2">26</text>
<text x="3396" y="1120.3">25</text>
<text x="3396" y="1282.4">24</text>
<text x="3396" y="1444.5">23</text>
<text x="3396" y="1606.6">22</text>
<text x="3396" y="1768.7">21</text>
</g>

<!-- x ticks -->
<path d="M855.6 1912V1927M1357.2 1912V1927M1858.8 1912V1927M2360.4 1912V1927M2862 1912V1927M3363.6 1912V1927" stroke="#000" stroke-width="3.3"/>
<g font-size="41.67" text-anchor="middle">
<text x="855.6" y="1975">1</text>
<text x="1357.2" y="1975">2</text>
<text x="1858.8" y="1975">3</text>
<text x="2360.4" y="1975">4</text>
<text x="2862" y="1975">5</text>
<text x="3363.6" y="1975">6</text>
</g>

<!-- legend -->
<rect x="2858.6" y="577.3" width="486.4" height="202.7" rx="9" ry="9" fill="#fff" fill-opacity="0.8" stroke="#d0d0d0" stroke-width="3.3"/>
<text x="3103" y="630" font-size="41.67" text-anchor="middle">EODf<tspan font-size="29.2" dy="6">25</tspan></text>
<path d="M2873 676.7H2962" stroke="#006400" stroke-width="6.25"/>
<path d="M2873 740H2962" stroke="#3773a5" stroke-width="6.25"/>
<text x="2994.6" y="691.7" font-size="41.67">ID 3.0 677.75Hz</text>
<text x="2994.6" y="755" font-size="41.67">ID 6.0 837.79Hz</text>
</svg>
</body></html>
